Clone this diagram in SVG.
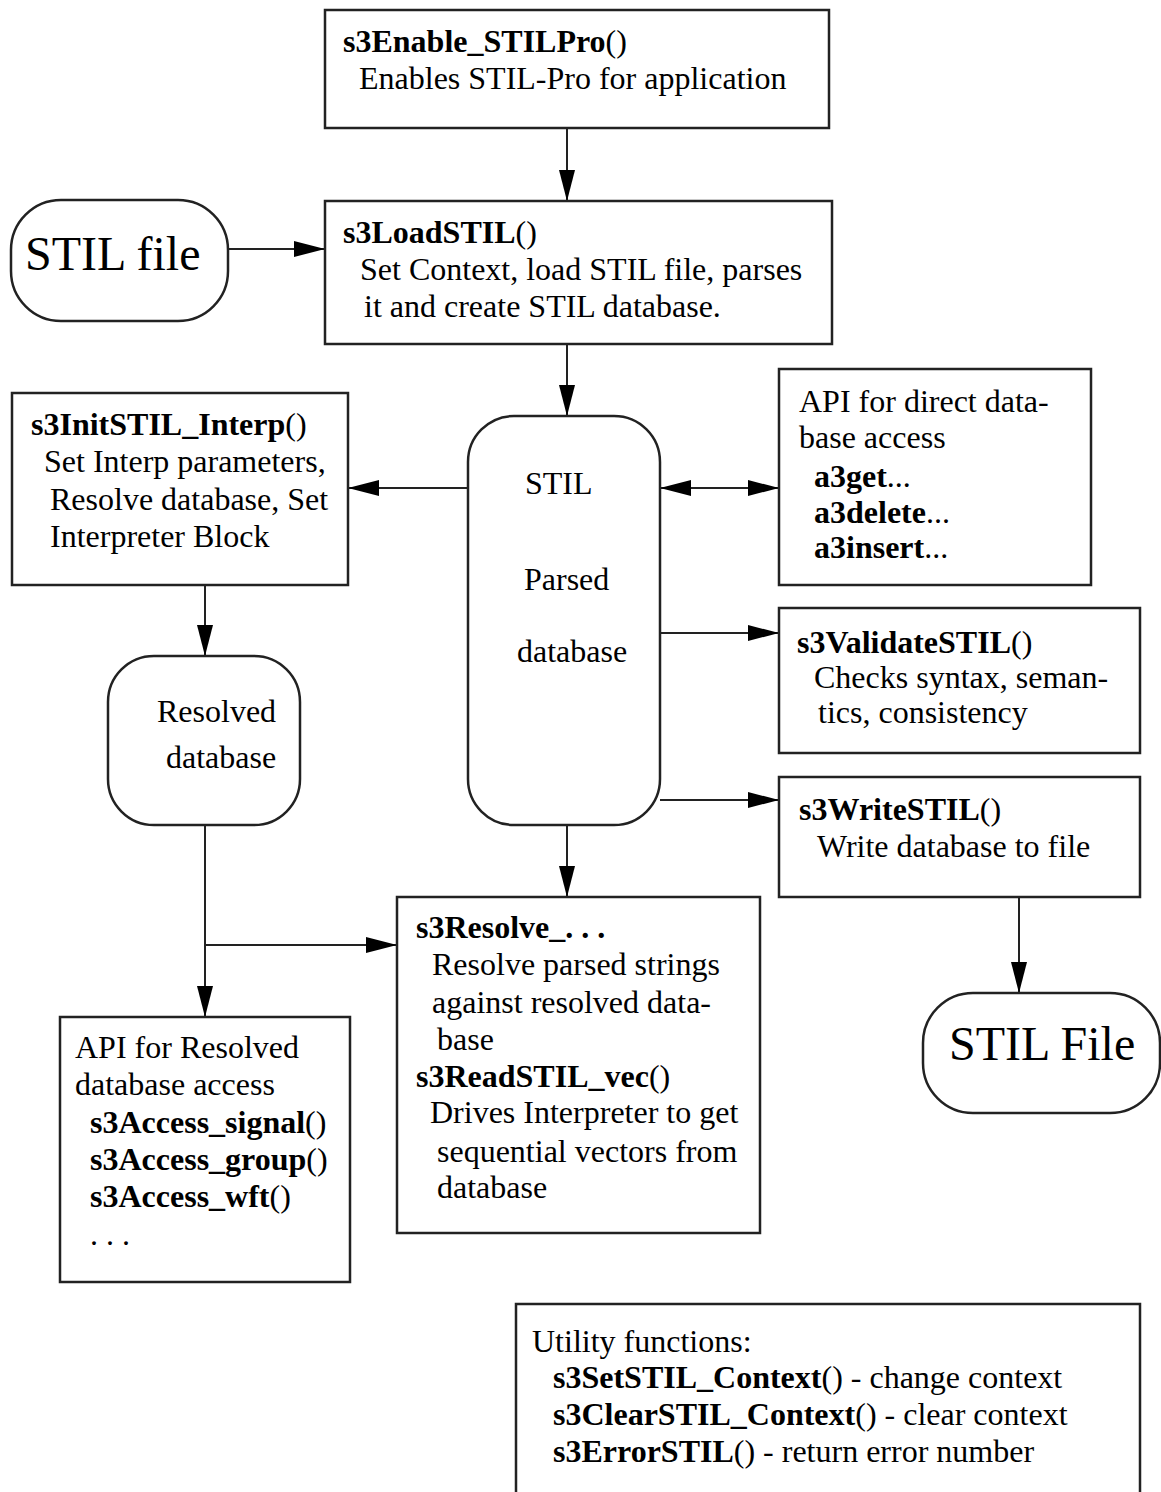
<svg xmlns="http://www.w3.org/2000/svg" width="1161" height="1492" viewBox="0 0 1161 1492">
<style>
text{font-family:"Liberation Serif","Times New Roman",serif;font-size:32px;fill:#000}
.b{font-weight:bold}
.big{font-size:48px}
.box{fill:#fff;stroke:#222;stroke-width:2.5}
.ln{fill:none;stroke:#222;stroke-width:2}
</style>
<defs>
<marker id="ah" markerWidth="31" markerHeight="16" refX="31" refY="8" orient="auto-start-reverse" markerUnits="userSpaceOnUse">
<path d="M0,0 L31,8 L0,16 Z" fill="#000"/>
</marker>
</defs>
<g id="connectors">
<line class="ln" x1="567" y1="129" x2="567" y2="201" marker-end="url(#ah)"/>
<line class="ln" x1="228" y1="249" x2="325" y2="249" marker-end="url(#ah)"/>
<line class="ln" x1="567" y1="344" x2="567" y2="416" marker-end="url(#ah)"/>
<line class="ln" x1="468" y1="488" x2="348" y2="488" marker-end="url(#ah)"/>
<line class="ln" x1="660" y1="488" x2="779" y2="488" marker-start="url(#ah)" marker-end="url(#ah)"/>
<line class="ln" x1="660" y1="633" x2="779" y2="633" marker-end="url(#ah)"/>
<line class="ln" x1="660" y1="800" x2="779" y2="800" marker-end="url(#ah)"/>
<line class="ln" x1="205" y1="585" x2="205" y2="656" marker-end="url(#ah)"/>
<line class="ln" x1="567" y1="825" x2="567" y2="897" marker-end="url(#ah)"/>
<line class="ln" x1="205" y1="825" x2="205" y2="1017" marker-end="url(#ah)"/>
<line class="ln" x1="205" y1="945" x2="397" y2="945" marker-end="url(#ah)"/>
<line class="ln" x1="1019" y1="897" x2="1019" y2="993" marker-end="url(#ah)"/>
</g>
<g id="enable">
<rect class="box" x="325" y="10" width="504" height="118"/>
<text x="343" y="52"><tspan class="b">s3Enable_STILPro</tspan>()</text>
<text x="359" y="89">Enables STIL-Pro for application</text>
</g>
<g id="stilfile">
<rect class="box" x="11" y="200" width="217" height="121" rx="50" ry="50"/>
<text class="big" x="25" y="270">STIL file</text>
</g>
<g id="load">
<rect class="box" x="325" y="201" width="507" height="143"/>
<text x="343" y="243"><tspan class="b">s3LoadSTIL</tspan>()</text>
<text x="360" y="280">Set Context, load STIL file, parses</text>
<text x="364" y="317">it and create STIL database.</text>
</g>
<g id="parsed">
<rect class="box" x="468" y="416" width="192" height="409" rx="46" ry="46"/>
<text x="525" y="494">STIL</text>
<text x="524" y="590">Parsed</text>
<text x="517" y="662">database</text>
</g>
<g id="init">
<rect class="box" x="12" y="393" width="336" height="192"/>
<text x="31" y="435"><tspan class="b">s3InitSTIL_Interp</tspan>()</text>
<text x="44" y="472">Set Interp parameters,</text>
<text x="50" y="510">Resolve database, Set</text>
<text x="50" y="547">Interpreter Block</text>
</g>
<g id="direct">
<rect class="box" x="779" y="369" width="312" height="216"/>
<text x="799" y="412">API for direct data-</text>
<text x="799" y="448">base access</text>
<text x="814" y="487"><tspan class="b">a3get</tspan>...</text>
<text x="814" y="523"><tspan class="b">a3delete</tspan>...</text>
<text x="814" y="558"><tspan class="b">a3insert</tspan>...</text>
</g>
<g id="validate">
<rect class="box" x="779" y="608" width="361" height="145"/>
<text x="797" y="653"><tspan class="b">s3ValidateSTIL</tspan>()</text>
<text x="814" y="688">Checks syntax, seman-</text>
<text x="818" y="723">tics, consistency</text>
</g>
<g id="write">
<rect class="box" x="779" y="777" width="361" height="120"/>
<text x="799" y="820"><tspan class="b">s3WriteSTIL</tspan>()</text>
<text x="817" y="857">Write database to file</text>
</g>
<g id="resolved">
<rect class="box" x="108" y="656" width="192" height="169" rx="46" ry="46"/>
<text x="157" y="722">Resolved</text>
<text x="166" y="768">database</text>
</g>
<g id="stilout">
<rect class="box" x="923" y="993" width="237" height="120" rx="50" ry="50"/>
<text class="big" x="949" y="1060">STIL File</text>
</g>
<g id="resolve">
<rect class="box" x="397" y="897" width="363" height="336"/>
<text x="416" y="938"><tspan class="b">s3Resolve_. . .</tspan></text>
<text x="432" y="975">Resolve parsed strings</text>
<text x="432" y="1013">against resolved data-</text>
<text x="437" y="1050">base</text>
<text x="416" y="1087"><tspan class="b">s3ReadSTIL_vec</tspan>()</text>
<text x="430" y="1123">Drives Interpreter to get</text>
<text x="437" y="1162">sequential vectors from</text>
<text x="437" y="1198">database</text>
</g>
<g id="apiresolved">
<rect class="box" x="60" y="1017" width="290" height="265"/>
<text x="75" y="1058">API for Resolved</text>
<text x="75" y="1095">database access</text>
<text x="90" y="1133"><tspan class="b">s3Access_signal</tspan>()</text>
<text x="90" y="1170"><tspan class="b">s3Access_group</tspan>()</text>
<text x="90" y="1207"><tspan class="b">s3Access_wft</tspan>()</text>
<text x="90" y="1245">. . .</text>
</g>
<g id="utility">
<rect class="box" x="516" y="1304" width="624" height="200"/>
<text x="532" y="1352">Utility functions:</text>
<text x="553" y="1388"><tspan class="b">s3SetSTIL_Context</tspan>() - change context</text>
<text x="553" y="1425"><tspan class="b">s3ClearSTIL_Context</tspan>() - clear context</text>
<text x="553" y="1462"><tspan class="b">s3ErrorSTIL</tspan>() - return error number</text>
</g>
</svg>
